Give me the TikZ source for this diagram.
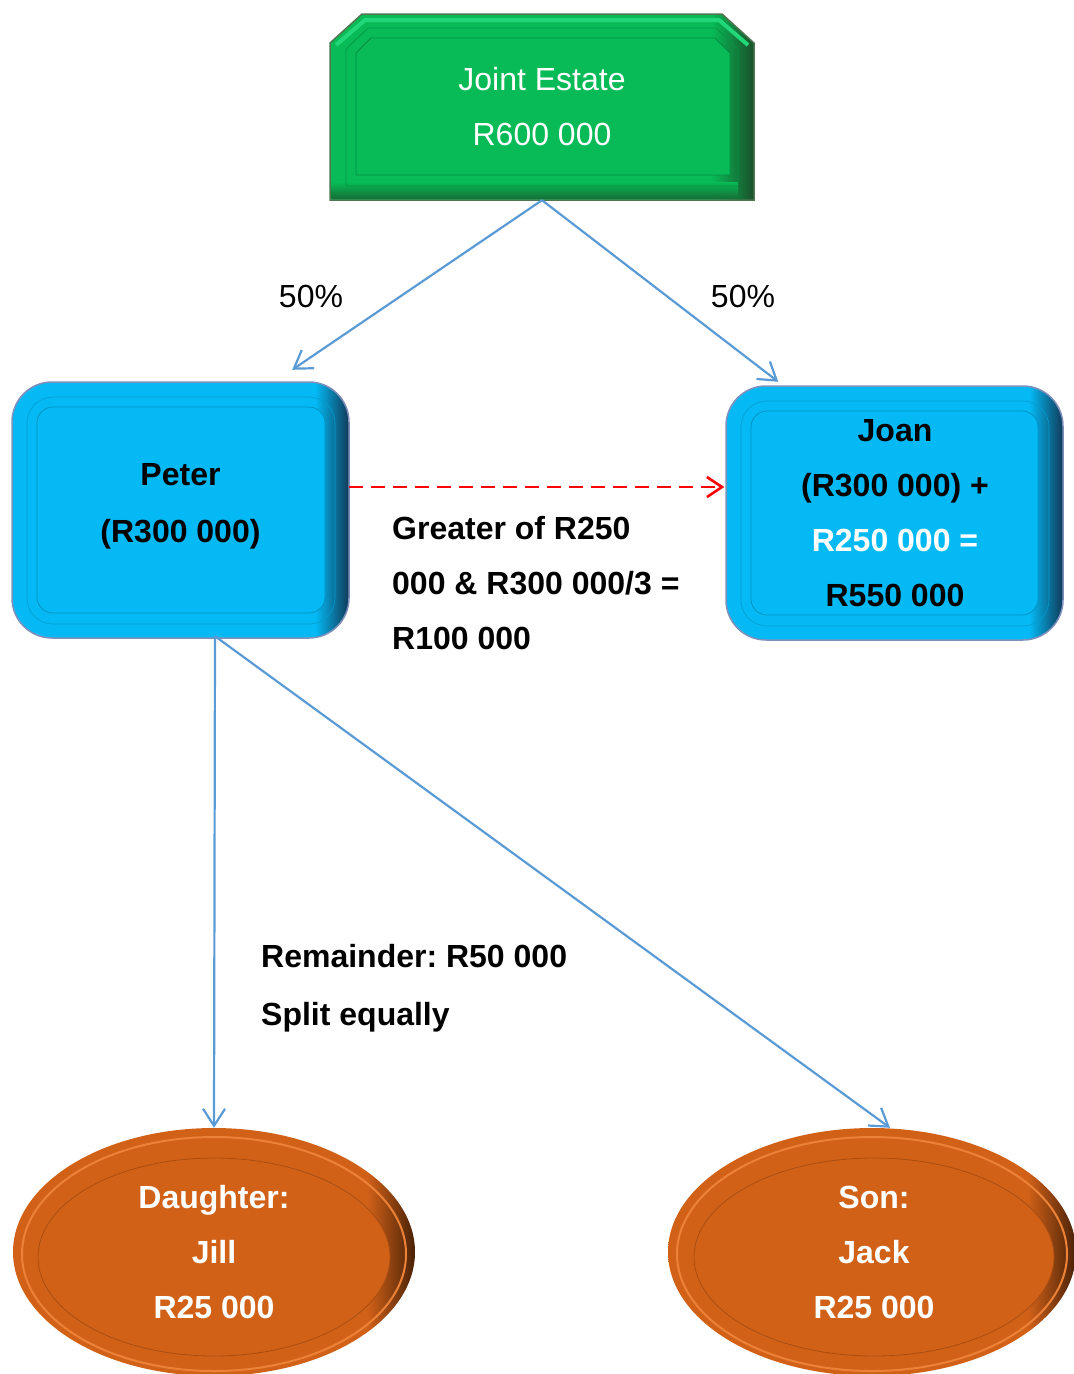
\documentclass[tikz,border=0pt]{standalone}
\usepackage{fontspec}
\setmainfont{Liberation Sans}
\usetikzlibrary{arrows.meta,shapes.geometric,calc}
\frenchspacing

% palette
\definecolor{estgreen}{HTML}{08BB56}
\definecolor{estlight}{HTML}{22D778}
\definecolor{estdark}{HTML}{1B4F2A}
\definecolor{estedge}{HTML}{4E7650}
\definecolor{boxblue}{HTML}{04B9F4}
\definecolor{bluelight}{HTML}{45D8FF}
\definecolor{bluedark}{HTML}{103A58}
\definecolor{blueedge}{HTML}{7F90BC}
\definecolor{heirorange}{HTML}{D26118}
\definecolor{orangelight}{HTML}{EC8238}
\definecolor{orangedark}{HTML}{4A2208}
\definecolor{linkblue}{HTML}{5B9BD5}
\definecolor{transfer}{HTML}{FF0000}

% rims that darken towards the right edge
\pgfdeclarehorizontalshading{greenrim}{100bp}{color(0bp)=(estgreen); color(25bp)=(estgreen); color(70bp)=(estgreen); color(75bp)=(estdark); color(100bp)=(estdark)}
\pgfdeclarehorizontalshading{bluerim}{100bp}{color(0bp)=(bluelight); color(25bp)=(boxblue); color(70bp)=(boxblue); color(75bp)=(bluedark); color(100bp)=(bluedark)}
\pgfdeclarehorizontalshading{orangerim}{100bp}{color(0bp)=(heirorange); color(25bp)=(heirorange); color(69bp)=(heirorange); color(75bp)=(orangedark); color(100bp)=(orangedark)}

\tikzset{
  txt/.style={font=\fontsize{32}{55}\selectfont, align=center, inner sep=0pt},
  bold/.style={txt, font=\fontsize{32}{55}\selectfont\bfseries},
  estatebox/.style={txt, text=white, minimum width=424pt, minimum height=186pt},
  personbox/.style={bold, minimum width=337pt, minimum height=256pt},
  heir/.style={bold, text=white, ellipse, minimum width=404pt, minimum height=248pt},
  link/.style={draw=linkblue, line width=2.2pt, -{Straight Barb[length=17pt,width=22pt]}},
  transferlink/.style={draw=transfer, line width=2.6pt, dash pattern=on 14pt off 8pt,
    -{Straight Barb[length=15pt,width=20pt]}},
  note/.style={bold, align=left, anchor=west},
  share/.style={txt},
}

\begin{document}
\begin{tikzpicture}[x=1pt,y=-1pt]
\useasboundingbox (0,0) rectangle (1074,1374);
\clip (0,0) rectangle (1074,1374);

% ---- joint estate panel ----
\shade[shading=greenrim, draw=estedge, line width=1.5pt]
  (330,200) -- (330,43) -- (362,14) -- (722,14) -- (754,43) -- (754,200) -- cycle;
\draw[estlight, line width=4pt, line join=round] (336,45) -- (365,20) -- (719,20) -- (748,45);
\shade[top color=estgreen, bottom color=estdark!70!estgreen] (331.5,182) rectangle (738,198.5);
\draw[estgreen!80!black, line width=0.7pt]
  (346,186) -- (346,49) -- (368,28) -- (716,28) -- (738,49) -- (738,186) -- cycle;
\filldraw[fill=estgreen, draw=estgreen!75!black, line width=0.8pt]
  (356,175) -- (356,53) -- (371,38) -- (715,38) -- (730,53) -- (730,175) -- cycle;
\node[estatebox] (estate) at (542,107) {Joint Estate\\R600 000};

% ---- Peter ----
\shade[shading=bluerim, draw=blueedge, line width=1.5pt, rounded corners=40pt]
  (12,382) rectangle (349,638);
\draw[boxblue!85!black, line width=0.6pt, rounded corners=26pt] (27,397) rectangle (335,624);
\filldraw[fill=boxblue, draw=boxblue!80!black, line width=0.8pt, rounded corners=16pt]
  (37,407) rectangle (325,613);
\node[personbox] (peter) at (180.5,506) {Peter\\[2pt](R300 000)};

% ---- Joan ----
\shade[shading=bluerim, draw=blueedge, line width=1.5pt, rounded corners=40pt]
  (726,386) rectangle (1063,640);
\draw[boxblue!85!black, line width=0.6pt, rounded corners=26pt] (741,401) rectangle (1049,626);
\filldraw[fill=boxblue, draw=boxblue!80!black, line width=0.8pt, rounded corners=16pt]
  (751,411) rectangle (1038,615);
\node[personbox] (joan) at (895,513) {Joan\\(R300 000) +\\\textcolor{white}{R250 000 =}\\R550 000};

% ---- children ----
\shade[shading=orangerim] (214,1252) ellipse [x radius=201, y radius=124];
\draw[orangelight, line width=2pt] (214,1254) ellipse [x radius=192, y radius=117];
\filldraw[fill=heirorange, draw=heirorange!80!black, line width=0.8pt]
  (214,1257) ellipse [x radius=176, y radius=99];
\node[heir] (jill) at (214,1252) {Daughter:\\Jill\\R25 000};

\shade[shading=orangerim] (872,1252) ellipse [x radius=204, y radius=124];
\draw[orangelight, line width=2pt] (872,1254) ellipse [x radius=195, y radius=117];
\filldraw[fill=heirorange, draw=heirorange!80!black, line width=0.8pt]
  (874,1257) ellipse [x radius=180, y radius=99];
\node[heir] (jack) at (874,1252) {Son:\\Jack\\R25 000};

% ---- connectors ----
\draw[link] (estate.south) -- ([xshift=-57pt,yshift=8pt]peter.north east);
\draw[link] (estate.south) -- ([xshift=52pt,yshift=3pt]joan.north west);
\draw[link] ([xshift=34.5pt,yshift=-2pt]peter.south) -- (jill.north);
\draw[link] ([xshift=34.5pt,yshift=-2pt]peter.south) -- ([xshift=16pt]jack.north);
\draw[transferlink] ([yshift=19pt]peter.east) -- ([yshift=26pt,xshift=-2pt]joan.west);

% ---- labels ----
\node[share] (lshare) at (311,296) {50\%};
\node[share] (rshare) at (743,296) {50\%};
\node[note] (rule) at (392,583) {Greater of R250\\000 \& R300 000/3 =\\R100 000};
\node[note, font=\fontsize{32}{58}\selectfont\bfseries] (rest) at (261,988) {Remainder: R50 000\\Split equally};

\end{tikzpicture}
\end{document}
